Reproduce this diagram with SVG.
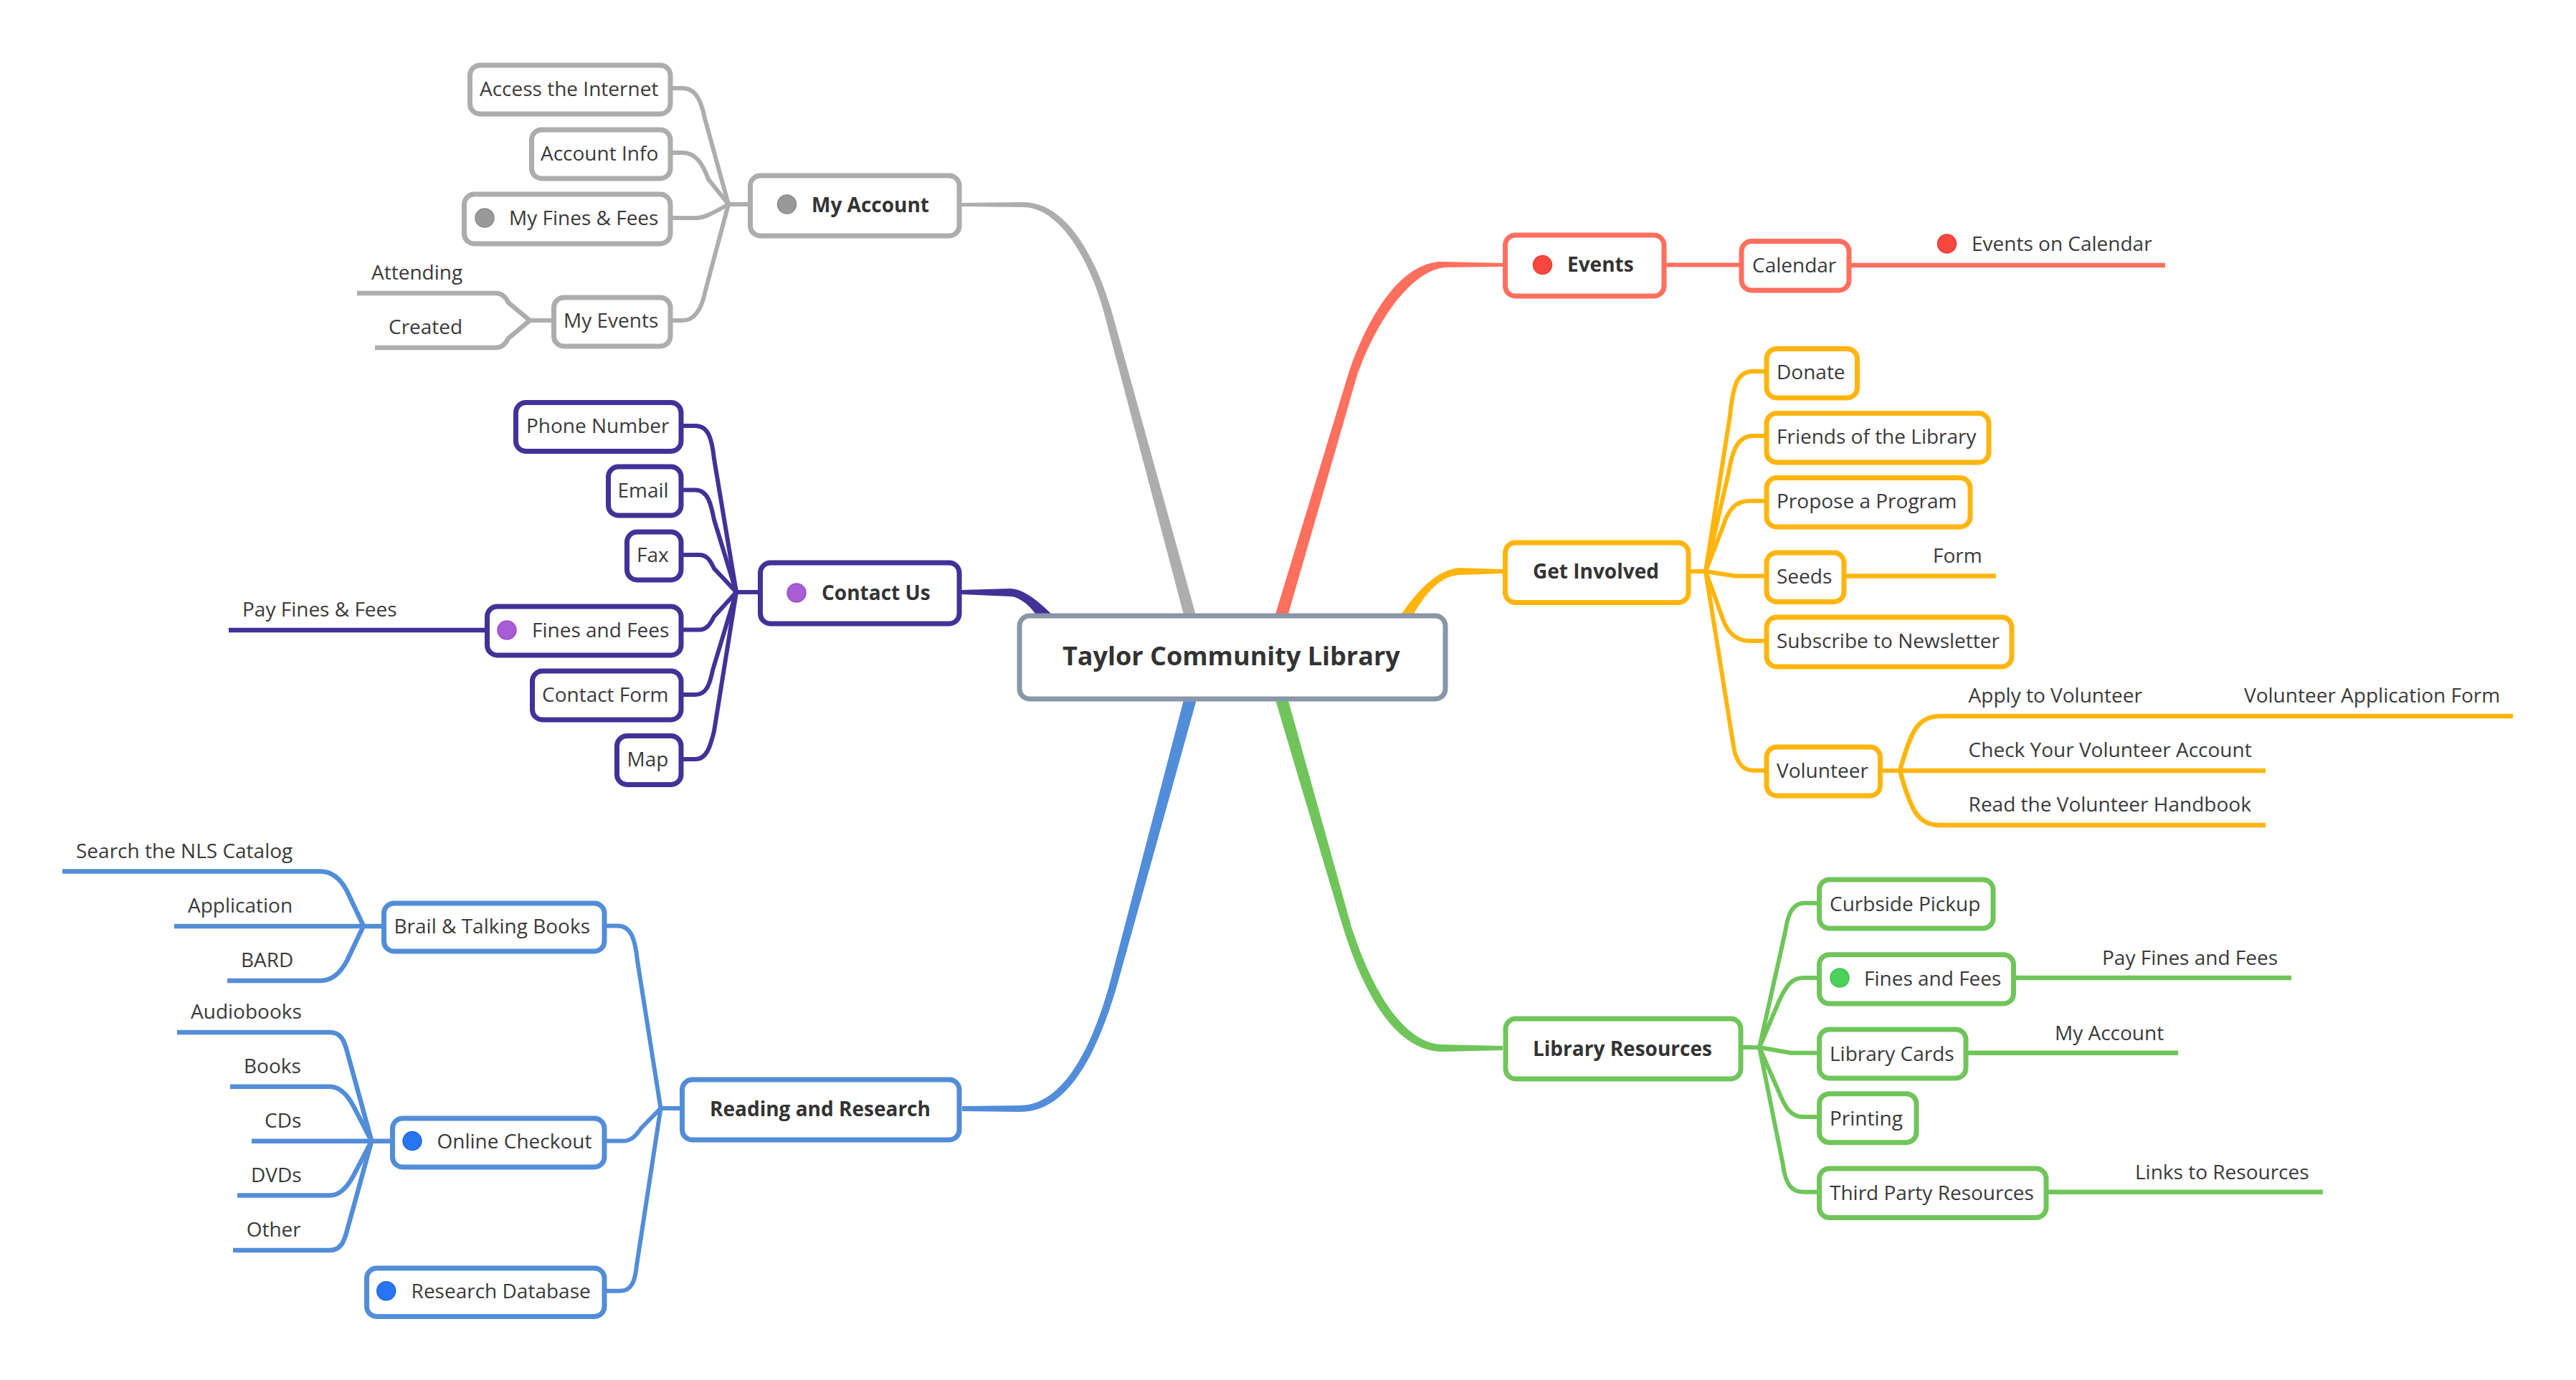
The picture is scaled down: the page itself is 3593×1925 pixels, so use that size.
<svg xmlns="http://www.w3.org/2000/svg" width="3593" height="1925" viewBox="0 0 3593 1925">
<style>
text{font-family:"Open Sans","Noto Sans",sans-serif;font-size:28px;fill:#3a3a3a}
.b{font-weight:700;fill:#333}
.t{font-weight:700;font-size:36px;fill:#333}
rect{fill:#fff;stroke-width:7;rx:14px;ry:14px}
.gray rect{stroke:#adadad}.purple rect{stroke:#433198}.red rect{stroke:#ff6f5e}.orange rect{stroke:#ffb50d}.green rect{stroke:#70c55a}.blue rect{stroke:#528dd9}.root rect{stroke:#8a95a8}
circle{r:13px;stroke-width:1.5}
.gray circle{fill:#999;stroke:#8a8a8a}.purple circle{fill:#a85cd6;stroke:#9b50c8}.red circle{fill:#f8473d;stroke:#e8413a}.green circle{fill:#4cd15a;stroke:#46bf53}.blue circle{fill:#2775f0;stroke:#2269dc}
#connectors path{fill:none;stroke-width:6;stroke-linecap:butt;stroke-linejoin:round}
#connectors path.m{stroke:none}
#connectors .leaf{stroke-width:6.500}
.sg{stroke:#adadad}.sp{stroke:#433198}.sr{stroke:#ff6f5e}.so{stroke:#ffb50d}.sn{stroke:#70c55a}.sb{stroke:#528dd9}
</style>
<rect x="0" y="0" width="3593" height="1925" style="fill:#fff;stroke:none;rx:0;ry:0"/>
<g id="connectors">
<g id="main-branches">
<path class="m" style="fill:#adadad" d="M1341 283L1427 282C1488 282 1530 360 1553 443L1674 880L1657 880L1540 437C1518 355 1475 289 1427 289L1341 288Z"/>
<path class="m" style="fill:#433198" d="M1341 823L1409 821C1425 821 1445 835 1466 856L1480 872L1460 872L1444 856C1435 843 1420 832 1409 832L1341 829Z"/>
<path class="m" style="fill:#ff6f5e" d="M2096 367L2010 365C1957 367 1913 430 1882 517L1775 870L1793 870L1893 523C1927 430 1977 375 2017 373L2096 372Z"/>
<path class="m" style="fill:#ffb50d" d="M2096 794L2034 792C2005 796 1980 820 1955 856L1947 870L1965 870L1972 856C1990 826 2010 803 2036 802L2096 800Z"/>
<path class="m" style="fill:#70c55a" d="M1777 970L1873 1293C1905 1395 1950 1467 2013 1467L2096 1465L2096 1459L2013 1457C1960 1457 1915 1385 1885 1293L1795 970Z"/>
<path class="m" style="fill:#528dd9" d="M1342 1543L1423 1542C1480 1541 1520 1470 1547 1375L1654 965L1672 965L1558 1375C1530 1470 1490 1551 1423 1551L1342 1550Z"/>
</g>
<g id="my-account-links">
<path class="sg" d="M938 123H952C970 123 978 140 983 165L1016 285"/>
<path class="sg" d="M938 213H952C970 213 980 228 988 250L1016 285"/>
<path class="sg" d="M938 304H972C980 304 990 300 1016 285"/>
<path class="sg" d="M938 447H952C972 447 980 425 984 405L1016 285"/>
<path class="sg" d="M1044 285H1016"/>
<path class="sg leaf" d="M498 409H692C700 409 705 414 709 422L739 447"/>
<path class="sg leaf" d="M523 485H692C700 485 705 480 709 472L739 447"/>
<path class="sg" d="M770 447H739"/>
</g>
<g id="contact-links">
<path class="sp" d="M950 594H970C988 594 993 612 996 640L1027 826"/>
<path class="sp" d="M950 683.500H970C988 683.500 992 705 996 725L1027 826"/>
<path class="sp" d="M950 774H975C985 774 990 780 996 793L1027 826"/>
<path class="sp" d="M950 878.500H975C985 878.500 990 872 996 860L1027 826"/>
<path class="sp" d="M950 969H970C985 969 990 955 994 935L1027 826"/>
<path class="sp" d="M950 1059H970C986 1059 991 1040 996 1020L1027 826"/>
<path class="sp" d="M1058 826H1027"/>
<path class="sp leaf" d="M319 879H677"/>
</g>
<g id="reading-links">
<path class="sb" d="M846 1291.600H862C880 1291.600 886 1310 889 1340L921.500 1546"/>
<path class="sb" d="M846 1591.600H870C880 1591.600 887 1585 894 1574L921.500 1546"/>
<path class="sb" d="M846 1800.700H865C882 1800.700 886 1785 888 1765L921.500 1546"/>
<path class="sb" d="M949 1546H921.500"/>
<path class="sb leaf" d="M87 1215.600H447C465 1215.600 476 1228 484 1243L507 1291.600"/>
<path class="sb leaf" d="M243 1292H533"/>
<path class="sb leaf" d="M317 1368H447C465 1368 476 1355 484 1340L507 1291.600"/>
<path class="sb leaf" d="M247 1440H460C475 1440 480 1450 485 1470L518.300 1591.700"/>
<path class="sb leaf" d="M321 1515.800H460C475 1515.800 485 1528 493 1543L518.300 1591.700"/>
<path class="sb leaf" d="M351 1591.700H545"/>
<path class="sb leaf" d="M331 1667.600H460C475 1667.600 485 1655 493 1640L518.300 1591.700"/>
<path class="sb leaf" d="M325 1744H460C475 1744 480 1733 485 1713L518.300 1591.700"/>
</g>
<g id="events-links">
<path class="sr" d="M2324 369.500H2427"/>
<path class="sr leaf" d="M2582 370H3020"/>
</g>
<g id="involved-links">
<path class="so" d="M2358 797H2379"/>
<path class="so" d="M2379 797L2413 580C2417 540 2422 518 2445 518H2462"/>
<path class="so" d="M2379 797L2411 660C2416 628 2424 608 2445 608H2462"/>
<path class="so" d="M2379 797L2403 735C2410 712 2420 698.700 2440 698.700H2462"/>
<path class="so" d="M2379 797L2420 803.500H2462"/>
<path class="so" d="M2379 797L2400 855C2407 880 2420 894 2440 894H2462"/>
<path class="so" d="M2379 797L2417 1035C2420 1060 2428 1074.700 2445 1074.700H2462"/>
<path class="so leaf" d="M2575 803.500H2784"/>
<path class="so" d="M2625 1075H2650"/>
<path class="so leaf" d="M2650 1075C2665 1020 2675 999 2706 999H3505"/>
<path class="so leaf" d="M2650 1075H3160"/>
<path class="so leaf" d="M2650 1075C2665 1130 2675 1151 2706 1151H3160"/>
</g>
<g id="library-links">
<path class="sn" d="M2431 1461H2454"/>
<path class="sn" d="M2454 1461L2490 1300C2493 1280 2498 1259.700 2517 1259.700H2535"/>
<path class="sn" d="M2454 1461L2482 1395C2490 1378 2498 1364 2515 1364H2535"/>
<path class="sn" d="M2454 1461L2498 1468.700H2535"/>
<path class="sn" d="M2454 1461L2482 1525C2490 1545 2498 1558 2515 1558H2535"/>
<path class="sn" d="M2454 1461L2487 1625C2490 1650 2498 1662.700 2515 1662.700H2535"/>
<path class="sn leaf" d="M2811 1364H3196"/>
<path class="sn leaf" d="M2745 1468.700H3038"/>
<path class="sn leaf" d="M2857 1662.700H3240"/>
</g>
</g>

<g id="node-root" class="root"><rect x="1422" y="859" width="594" height="116"/><text class="t" x="1482" y="928">Taylor Community Library</text></g>

<g id="node-my-account" class="gray"><rect x="1046.500" y="245" width="291.500" height="84"/><circle cx="1097.500" cy="285"/><text class="b" x="1132" y="296">My Account</text></g>
<g id="node-access" class="gray"><rect x="655.500" y="91" width="279.500" height="68"/><text x="669" y="134">Access the Internet</text></g>
<g id="node-account-info" class="gray"><rect x="741.500" y="181" width="193.500" height="68"/><text x="754" y="223.500">Account Info</text></g>
<g id="node-my-fines" class="gray"><rect x="647.500" y="271" width="287.500" height="69"/><circle cx="676" cy="304"/><text x="710" y="314">My Fines &amp; Fees</text></g>
<g id="node-my-events" class="gray"><rect x="772.500" y="415" width="162.500" height="68"/><text x="786" y="457">My Events</text></g>
<g id="leaf-attending" class="gray"><text x="518" y="389.500">Attending</text></g>
<g id="leaf-created" class="gray"><text x="542" y="465.500">Created</text></g>

<g id="node-contact" class="purple"><rect x="1060.500" y="785" width="277.500" height="85"/><circle cx="1111" cy="827"/><text class="b" x="1146" y="836.500">Contact Us</text></g>
<g id="node-phone" class="purple"><rect x="719.500" y="561.500" width="230.500" height="68"/><text x="734" y="603.500">Phone Number</text></g>
<g id="node-email" class="purple"><rect x="848.500" y="651" width="101.500" height="68"/><text x="861.500" y="693.500">Email</text></g>
<g id="node-fax" class="purple"><rect x="874.500" y="742" width="75.500" height="67"/><text x="888" y="784">Fax</text></g>
<g id="node-fines" class="purple"><rect x="679.500" y="846" width="270.500" height="68"/><circle cx="707" cy="879"/><text x="742" y="888.500">Fines and Fees</text></g>
<g id="node-contact-form" class="purple"><rect x="742.500" y="936" width="207.500" height="68"/><text x="756" y="978.500">Contact Form</text></g>
<g id="node-map" class="purple"><rect x="860.500" y="1026.500" width="89.500" height="68"/><text x="874.500" y="1069">Map</text></g>
<g id="leaf-pay" class="purple"><text x="338" y="859.500">Pay Fines &amp; Fees</text></g>

<g id="node-reading" class="blue"><rect x="951.500" y="1506" width="386.500" height="84"/><text class="b" x="990" y="1557">Reading and Research</text></g>
<g id="node-brail" class="blue"><rect x="535.500" y="1260" width="307.500" height="67"/><text x="549.500" y="1302">Brail &amp; Talking Books</text></g>
<g id="node-online" class="blue"><rect x="547.500" y="1560" width="295.500" height="68"/><circle cx="575" cy="1591.600"/><text x="609.500" y="1601.500">Online Checkout</text></g>
<g id="node-research" class="blue"><rect x="511.500" y="1769" width="331.500" height="67.500"/><circle cx="538.700" cy="1800.700"/><text x="573.600" y="1811">Research Database</text></g>
<g id="leaf-search" class="blue"><text x="106" y="1196.500">Search the NLS Catalog</text></g>
<g id="leaf-application" class="blue"><text x="262" y="1272.500">Application</text></g>
<g id="leaf-bard" class="blue"><text x="336" y="1348.500">BARD</text></g>
<g id="leaf-audiobooks" class="blue"><text x="266" y="1420.500">Audiobooks</text></g>
<g id="leaf-books" class="blue"><text x="340" y="1496.500">Books</text></g>
<g id="leaf-cds" class="blue"><text x="369" y="1573">CDs</text></g>
<g id="leaf-dvds" class="blue"><text x="350" y="1649">DVDs</text></g>
<g id="leaf-other" class="blue"><text x="343.700" y="1724.500">Other</text></g>

<g id="node-events" class="red"><rect x="2099.500" y="328" width="221.500" height="85"/><circle cx="2151.500" cy="369.500"/><text class="b" x="2186" y="379">Events</text></g>
<g id="node-calendar" class="red"><rect x="2429" y="336.500" width="150" height="68.500"/><text x="2444" y="379.500">Calendar</text></g>
<g id="leaf-events-cal" class="red"><circle cx="2715.500" cy="340"/><text x="2750" y="350">Events on Calendar</text></g>

<g id="node-involved" class="orange"><rect x="2099.500" y="757" width="255.500" height="83.500"/><text class="b" x="2138" y="807">Get Involved</text></g>
<g id="node-donate" class="orange"><rect x="2464" y="486.500" width="126.500" height="68.500"/><text x="2478" y="529">Donate</text></g>
<g id="node-friends" class="orange"><rect x="2464" y="576.500" width="310" height="68.500"/><text x="2478" y="619">Friends of the Library</text></g>
<g id="node-propose" class="orange"><rect x="2464" y="666.500" width="284" height="68.500"/><text x="2478" y="709">Propose a Program</text></g>
<g id="node-seeds" class="orange"><rect x="2464" y="771" width="108" height="68.500"/><text x="2478" y="814">Seeds</text></g>
<g id="node-subscribe" class="orange"><rect x="2464" y="861" width="342" height="69"/><text x="2478" y="904">Subscribe to Newsletter</text></g>
<g id="node-volunteer" class="orange"><rect x="2464" y="1042" width="158.500" height="68"/><text x="2478" y="1084.500">Volunteer</text></g>
<g id="leaf-form" class="orange"><text x="2696" y="784.500">Form</text></g>
<g id="leaf-apply" class="orange"><text x="2745.600" y="979.500">Apply to Volunteer</text></g>
<g id="leaf-vaf" class="orange"><text x="3130" y="979.500">Volunteer Application Form</text></g>
<g id="leaf-check" class="orange"><text x="2745.600" y="1055.500">Check Your Volunteer Account</text></g>
<g id="leaf-read" class="orange"><text x="2745.600" y="1131.500">Read the Volunteer Handbook</text></g>

<g id="node-library" class="green"><rect x="2100" y="1421" width="328" height="84"/><text class="b" x="2138" y="1473">Library Resources</text></g>
<g id="node-curbside" class="green"><rect x="2537.500" y="1227" width="242.500" height="68"/><text x="2552" y="1270.500">Curbside Pickup</text></g>
<g id="node-lib-fines" class="green"><rect x="2537.500" y="1331.700" width="271" height="68.300"/><circle cx="2566" cy="1364"/><text x="2600" y="1374.500">Fines and Fees</text></g>
<g id="node-lib-cards" class="green"><rect x="2537.500" y="1436" width="204.500" height="68"/><text x="2552" y="1480">Library Cards</text></g>
<g id="node-printing" class="green"><rect x="2537.500" y="1525.700" width="135.500" height="68"/><text x="2552" y="1569.500">Printing</text></g>
<g id="node-third" class="green"><rect x="2537.500" y="1630" width="316.500" height="68.500"/><text x="2552" y="1674">Third Party Resources</text></g>
<g id="leaf-lib-pay" class="green"><text x="2932" y="1346">Pay Fines and Fees</text></g>
<g id="leaf-lib-account" class="green"><text x="2866" y="1450.500">My Account</text></g>
<g id="leaf-links" class="green"><text x="2978" y="1644.500">Links to Resources</text></g>
</svg>
